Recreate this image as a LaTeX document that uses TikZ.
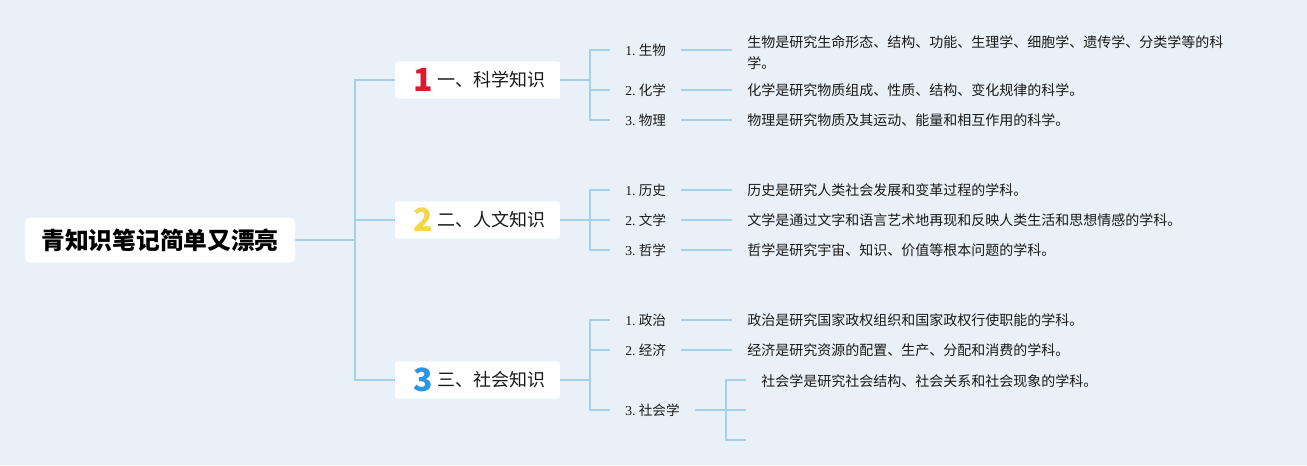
\documentclass[tikz,border=0pt]{standalone}
\usepackage{fontspec}
\newfontfamily\cjk{Noto Sans CJK SC}
\newfontfamily\serifdig{Liberation Serif}
\definecolor{bgc}{HTML}{E9F0F8}
\definecolor{linkc}{HTML}{A3D1EA}
\definecolor{redn}{HTML}{E1192D}
\definecolor{yelln}{HTML}{F4D64C}
\definecolor{bluen}{HTML}{2C97DE}
\definecolor{txt}{HTML}{1A1A1A}
\newcommand{\lf}[2]{{\serifdig #1.\ }{\cjk #2}}
\tikzset{
  rootbox/.style={fill=white, rounded corners=3pt, minimum width=202.5pt, minimum height=33.75pt, inner sep=0pt, text=black, font=\cjk\bfseries\fontsize{17.8}{20}\selectfont},
  brbox/.style={fill=white, rounded corners=2pt, minimum width=123.75pt, minimum height=28pt, inner sep=0pt},
  numtxt/.style={inner sep=0pt, font=\cjk\bfseries\fontsize{24}{26}\selectfont},
  brtxt/.style={anchor=west, inner sep=0pt, text=txt, font=\cjk\fontsize{13.5}{15}\selectfont},
  leaf/.style={anchor=west, inner xsep=11.25pt, inner ysep=0pt, text=txt, font=\fontsize{10.2}{12}\selectfont},
  desc/.style={anchor=west, inner xsep=11.25pt, inner ysep=0pt, text=txt, align=left, font=\cjk\fontsize{10.5}{15.75}\selectfont},
  link/.style={draw=linkc, line width=1.1pt}
}
\begin{document}
\begin{tikzpicture}[x=0.75pt,y=-0.75pt]
\fill[bgc] (0,0) rectangle (1307,465);
\useasboundingbox (0,0) rectangle (1307,465);

% root
\node[rootbox] (root) at (160,240) {青知识笔记简单又漂亮};

% branch boxes
\node[brbox] (b1) at (477.5,80) {};
\node[brbox] (b2) at (477.5,220) {};
\node[brbox] (b3) at (477.5,380) {};
\node[numtxt, text=redn] (n1) at (423,80) {1};
\node[numtxt, text=yelln] (n2) at (423,220) {2};
\node[numtxt, text=bluen] (n3) at (423,380) {3};
\node[brtxt] (t1) at (437,80) {一、科学知识};
\node[brtxt] (t2) at (437,220) {二、人文知识};
\node[brtxt] (t3) at (437,380) {三、社会知识};

% leaves group 1
\node[leaf] (l11) at (610,50) {\lf{1}{生物}};
\node[leaf] (l12) at (610,90) {\lf{2}{化学}};
\node[leaf] (l13) at (610,120) {\lf{3}{物理}};
\node[desc] (d11) at (732,53) {生物是研究生命形态、结构、功能、生理学、细胞学、遗传学、分类学等的科\\学。};
\node[desc] (d12) at (732,90) {化学是研究物质组成、性质、结构、变化规律的科学。};
\node[desc] (d13) at (732,120) {物理是研究物质及其运动、能量和相互作用的科学。};

% leaves group 2
\node[leaf] (l21) at (610,190) {\lf{1}{历史}};
\node[leaf] (l22) at (610,220) {\lf{2}{文学}};
\node[leaf] (l23) at (610,250) {\lf{3}{哲学}};
\node[desc] (d21) at (732,190) {历史是研究人类社会发展和变革过程的学科。};
\node[desc] (d22) at (732,220) {文学是通过文字和语言艺术地再现和反映人类生活和思想情感的学科。};
\node[desc] (d23) at (732,250) {哲学是研究宇宙、知识、价值等根本问题的学科。};

% leaves group 3
\node[leaf] (l31) at (610,320) {\lf{1}{政治}};
\node[leaf] (l32) at (610,350) {\lf{2}{经济}};
\node[leaf] (l33) at (610,410) {\lf{3}{社会学}};
\node[desc] (d31) at (732,320) {政治是研究国家政权组织和国家政权行使职能的学科。};
\node[desc] (d32) at (732,350) {经济是研究资源的配置、生产、分配和消费的学科。};
\node[desc] (d33) at (746,381) {社会学是研究社会结构、社会关系和社会现象的学科。};

% connectors
\coordinate (j0) at (355,240);
\coordinate (j1) at (590,80);
\coordinate (j2) at (590,220);
\coordinate (j3) at (590,380);
\coordinate (j4) at (726,410);
\coordinate (e1) at (746,380);
\coordinate (e2) at (746,410);
\coordinate (e3) at (746,440);

\draw[link] (root.east) -- (j0);
\draw[link] (j0) |- (b1.west);
\draw[link] (j0) |- (b2.west);
\draw[link] (j0) |- (b3.west);

\draw[link] (b1.east) -- (j1);
\draw[link] (j1) |- (l11.west);
\draw[link] (j1) |- (l12.west);
\draw[link] (j1) |- (l13.west);
\draw[link] (l11.east) -- (d11.west |- l11.east);
\draw[link] (l12.east) -- (d12.west);
\draw[link] (l13.east) -- (d13.west);

\draw[link] (b2.east) -- (j2);
\draw[link] (j2) |- (l21.west);
\draw[link] (j2) |- (l22.west);
\draw[link] (j2) |- (l23.west);
\draw[link] (l21.east) -- (d21.west);
\draw[link] (l22.east) -- (d22.west);
\draw[link] (l23.east) -- (d23.west);

\draw[link] (b3.east) -- (j3);
\draw[link] (j3) |- (l31.west);
\draw[link] (j3) |- (l32.west);
\draw[link] (j3) |- (l33.west);
\draw[link] (l31.east) -- (d31.west);
\draw[link] (l32.east) -- (d32.west);
\draw[link] (l33.east) -- (j4);
\draw[link] (j4) |- (e1);
\draw[link] (j4) |- (e2);
\draw[link] (j4) |- (e3);
\end{tikzpicture}
\end{document}
